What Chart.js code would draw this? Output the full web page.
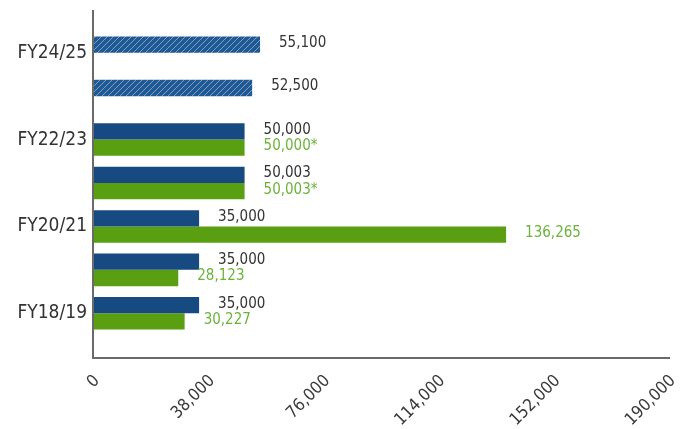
<!DOCTYPE html>
<html>
<head>
<meta charset="utf-8">
<script src="https://cdn.jsdelivr.net/npm/chart.js@4"></script>
<style>
html,body{margin:0;padding:0;background:#fff;}
#wrap{width:694px;height:429px;position:relative;}
</style>
</head>
<body>
<div id="wrap"><canvas id="c" width="694" height="429"></canvas></div>
<script>
// Data (top to bottom)
const categories = ['FY24/25','FY23/24','FY22/23','FY21/22','FY20/21','FY19/20','FY18/19'];
const shownCategoryLabels = ['FY24/25','','FY22/23','','FY20/21','','FY18/19'];
const targetValues = [55100, 52500, 50000, 50003, 35000, 35000, 35000];
const actualValues = [null, null, 50000, 50003, 136265, 28123, 30227];
const actualNotes = ['', '', '*', '*', '', '', ''];
const xTicks = [0, 38000, 76000, 114000, 152000, 190000];

const FONT = "'Liberation Sans Narrow','DejaVu Sans Condensed','Roboto',sans-serif";
const BLUE = '#174a80';
const GREEN = '#5a9f12';
const GREEN_TEXT = '#6cb33a';

function hatch() {
  const c = document.createElement('canvas');
  c.width = 6; c.height = 6;
  const g = c.getContext('2d');
  g.fillStyle = '#1f5a94';
  g.fillRect(0, 0, 6, 6);
  g.strokeStyle = '#7d9fc3';
  g.lineWidth = 1;
  g.beginPath();
  g.moveTo(-1, 7); g.lineTo(7, -1);
  g.moveTo(-1, 1); g.lineTo(1, -1);
  g.moveTo(5, 7); g.lineTo(7, 5);
  g.stroke();
  return g.createPattern(c, 'repeat');
}
const pat = hatch();
const hatched = [true, true, false, false, false, false, false];

const fmt = v => v.toLocaleString('en-US');

const axisLines = {
  id: 'axisLines',
  afterDraw(chart) {
    const a = chart.chartArea, ctx = chart.ctx;
    ctx.save();
    ctx.strokeStyle = '#6a6a6a';
    ctx.lineWidth = 2;
    ctx.beginPath();
    ctx.moveTo(a.left, a.top - 21);
    ctx.lineTo(a.left, a.bottom + 23);
    ctx.lineTo(a.right + 1, a.bottom + 23);
    ctx.stroke();
    ctx.restore();
  }
};

const valueLabels = {
  id: 'valueLabels',
  afterDatasetsDraw(chart) {
    const ctx = chart.ctx;
    ctx.save();
    ctx.font = "15px " + FONT;
    ctx.textBaseline = 'middle';
    ctx.textAlign = 'left';
    chart.data.datasets.forEach((ds, di) => {
      const meta = chart.getDatasetMeta(di);
      meta.data.forEach((el, i) => {
        const v = ds.data[i];
        if (v === null || v === undefined) return;
        let txt = fmt(v);
        if (di === 1) txt += actualNotes[i];
        ctx.fillStyle = di === 0 ? '#333333' : GREEN_TEXT;
        ctx.fillText(txt, el.x + 19, el.y - 1.5);
      });
    });
    ctx.restore();
  }
};

new Chart(document.getElementById('c'), {
  type: 'bar',
  data: {
    labels: categories,
    datasets: [
      {
        label: 'Target',
        data: targetValues,
        backgroundColor: targetValues.map((v, i) => hatched[i] ? pat : BLUE),
        categoryPercentage: 0.75,
        barPercentage: 1.0
      },
      {
        label: 'Actual',
        data: actualValues,
        backgroundColor: GREEN,
        categoryPercentage: 0.75,
        barPercentage: 1.0
      }
    ]
  },
  options: {
    indexAxis: 'y',
    responsive: false,
    animation: false,
    layout: { padding: { top: 31, right: 0, left: 0, bottom: 0 } },
    plugins: { legend: { display: false }, tooltip: { enabled: false } },
    scales: {
      x: {
        min: 0, max: 190000,
        afterBuildTicks(s) { s.ticks = xTicks.map(v => ({ value: v })); },
        afterFit(s) { s.height = 94; s.paddingRight = 25; s.paddingLeft = 0; },
        grid: { display: false, drawTicks: false },
        border: { display: false },
        ticks: {
          minRotation: 45, maxRotation: 45,
          padding: 36,
          labelOffset: 4,
          color: '#3a3a3a',
          font: { family: FONT, size: 17 },
          callback: v => fmt(v)
        }
      },
      y: {
        afterFit(s) { s.width = 93; },
        grid: { display: false, drawTicks: false },
        border: { display: false },
        ticks: {
          padding: 6,
          color: '#333',
          font: { family: FONT, size: 19 },
          autoSkip: false,
          callback: (v, i) => shownCategoryLabels[i]
        }
      }
    }
  },
  plugins: [axisLines, valueLabels]
});
</script>
</body>
</html>
